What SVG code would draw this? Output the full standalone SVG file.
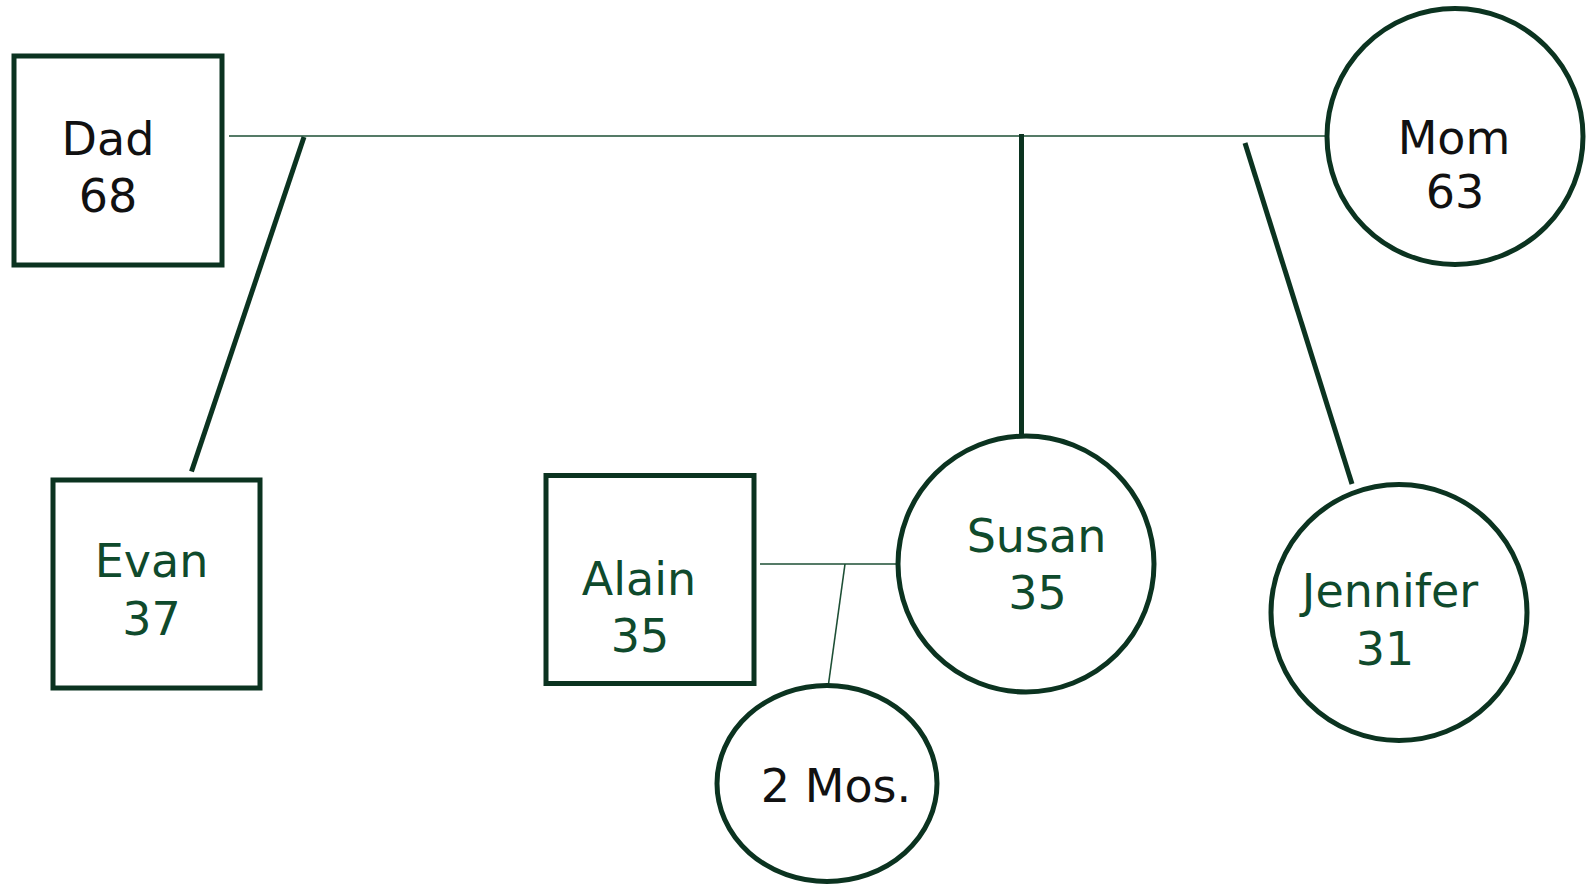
<svg xmlns="http://www.w3.org/2000/svg" width="1587" height="884" viewBox="0 0 1587 884">
<style>
.shape{fill:#fff;stroke:#0b3320;stroke-width:5}
.thick{stroke:#0b3320;stroke-width:5;fill:none}
.thin{stroke:#1d4f35;stroke-width:1.6;fill:none}
text{font-family:"DejaVu Sans","Liberation Sans",sans-serif;font-size:46px;text-anchor:middle}
.blk{fill:#111}
.grn{fill:#0f4a2c}
</style>
<rect width="1587" height="884" fill="#fff"/>
<g id="connectors">
<line class="thin" x1="229" y1="136" x2="1327" y2="136"/>
<line class="thick" x1="304" y1="137" x2="191.5" y2="471.5"/>
<line class="thick" x1="1021.5" y1="134" x2="1021.5" y2="436"/>
<line class="thick" x1="1245" y1="143" x2="1352" y2="484"/>
<line class="thin" x1="760" y1="564" x2="897" y2="564"/>
<line class="thin" x1="845" y1="564" x2="828.5" y2="684"/>
</g>
<g id="dad">
<rect class="shape" x="14" y="56" width="208" height="209"/>
<text class="blk" x="108" y="155">Dad</text>
<text class="blk" x="108" y="211.5">68</text>
</g>
<g id="mom">
<circle class="shape" cx="1455" cy="136.5" r="128"/>
<text class="blk" x="1454" y="154">Mom</text>
<text class="blk" x="1455" y="208">63</text>
</g>
<g id="evan">
<rect class="shape" x="53" y="480" width="207" height="208"/>
<text class="grn" x="151.5" y="577">Evan</text>
<text class="grn" x="151.5" y="635">37</text>
</g>
<g id="alain">
<rect class="shape" x="546" y="475.5" width="208" height="208"/>
<text class="grn" x="639" y="595">Alain</text>
<text class="grn" x="640" y="651.5">35</text>
</g>
<g id="susan">
<circle class="shape" cx="1026" cy="564" r="128"/>
<text class="grn" x="1036.5" y="551.5">Susan</text>
<text class="grn" x="1037.5" y="609">35</text>
</g>
<g id="jennifer">
<circle class="shape" cx="1399" cy="612.5" r="128"/>
<text class="grn" x="1390" y="607">Jennifer</text>
<text class="grn" x="1385" y="665">31</text>
</g>
<g id="baby">
<ellipse class="shape" cx="827" cy="783.5" rx="110" ry="98"/>
<text class="blk" x="836" y="802">2 Mos.</text>
</g>
</svg>
